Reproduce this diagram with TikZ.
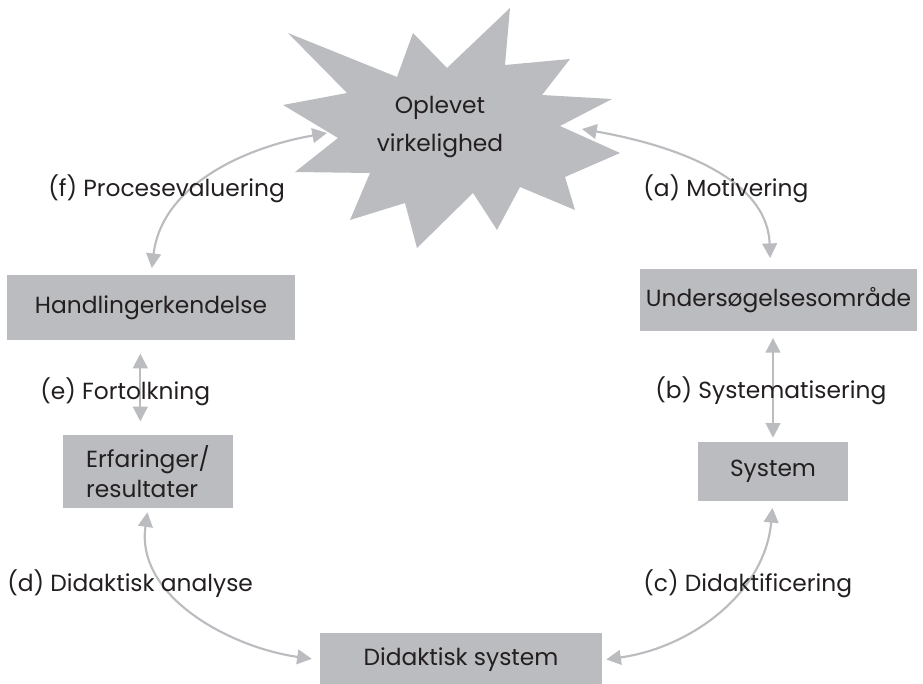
\documentclass[tikz,border=0pt]{standalone}
\usepackage{fontspec}
\setmainfont{Poppins}
\usetikzlibrary{arrows.meta}
\definecolor{lightgrey}{HTML}{BBBCBF}
\definecolor{txtgrey}{HTML}{231F20}
\tikzset{
  box/.style={fill=lightgrey, inner sep=0pt, text=txtgrey, font=\fontsize{17.5}{21}\selectfont},
  lbl/.style={anchor=mid west, inner sep=0pt, text=txtgrey, font=\fontsize{17.5}{21}\selectfont},
  conn/.style={draw=lightgrey, line width=1.6pt, {Triangle[length=11pt,width=11pt]}-{Triangle[length=11pt,width=11pt]}}
}
\begin{document}
\begin{tikzpicture}[x=0.75pt, y=-0.75pt]
        \useasboundingbox (0,0) rectangle (923,684);
        % the star
        \fill[lightgrey] (510,8) -- (505,65) -- (570,59) -- (542,95) -- (612,99) -- (560,126) -- (620,153) -- (565,177) -- (575,210) -- (520,187) -- (497,230) -- (473,193) -- (417,248) -- (405,203) -- (350,220) -- (370,173) -- (295,172) -- (338,138) -- (283,105) -- (347,93) -- (288,33) -- (397,77) -- (413,33) -- (447,68) -- cycle;
        \node[align=center, inner sep=0pt, text=txtgrey, font=\fontsize{17.5}{29}\selectfont] (oplev) at (440,127) {Oplevet\\virkelighed};
        \coordinate (starW) at (327,133);
        \coordinate (starE) at (582,129);
        % boxes
        \node[box, minimum width=216pt, minimum height=48.75pt] (hand) at (151,307.5) {Handlingerkendelse};
        \node[box, minimum width=127.5pt, minimum height=54.75pt, align=left, font=\fontsize{17.5}{23}\selectfont] (erf) at (148,471.5) {Erfaringer/\\resultater};
        \node[box, minimum width=207.75pt, minimum height=46.5pt] (unders) at (778.5,300) {Undersøgelsesområde};
        \node[box, minimum width=112.5pt, minimum height=44.25pt] (system) at (773,471.5) {System};
        \node[box, minimum width=211.5pt, minimum height=40pt] (did) at (461,660) {Didaktisk system};
        % connectors
        \draw[conn, shorten <=5pt] (hand.north) to[out=83, in=190] (starW);
        \draw[conn, shorten >=8pt] (starE) to[out=-10, in=92] ([xshift=-6pt]unders.north);
        \draw[conn, shorten <=10pt, shorten >=10pt] ([xshift=-8pt]hand.south) -- ([xshift=-8pt]hand.south |- erf.north);
        \draw[conn, shorten <=5pt, shorten >=3pt] (unders.south -| system.north) -- (system.north);
        \draw[conn, shorten <=3pt, shorten >=6pt] (erf.south) to[out=-98, in=172] (did.west);
        \draw[conn, shorten <=5pt, shorten >=3pt] (system.south) to[out=-95, in=8] (did.east);
        % labels
        \node[lbl] (lf) at (48,193) {(f) Procesevaluering};
        \node[lbl] (la) at (643,193) {(a) Motivering};
        \node[lbl] (le) at (40,396) {(e) Fortolkning};
        \node[lbl] (lb) at (655,395) {(b) Systematisering};
        \node[lbl] (ld) at (7,588) {(d) Didaktisk analyse};
        \node[lbl] (lc) at (643,588) {(c) Didaktificering};
\end{tikzpicture}
\end{document}
